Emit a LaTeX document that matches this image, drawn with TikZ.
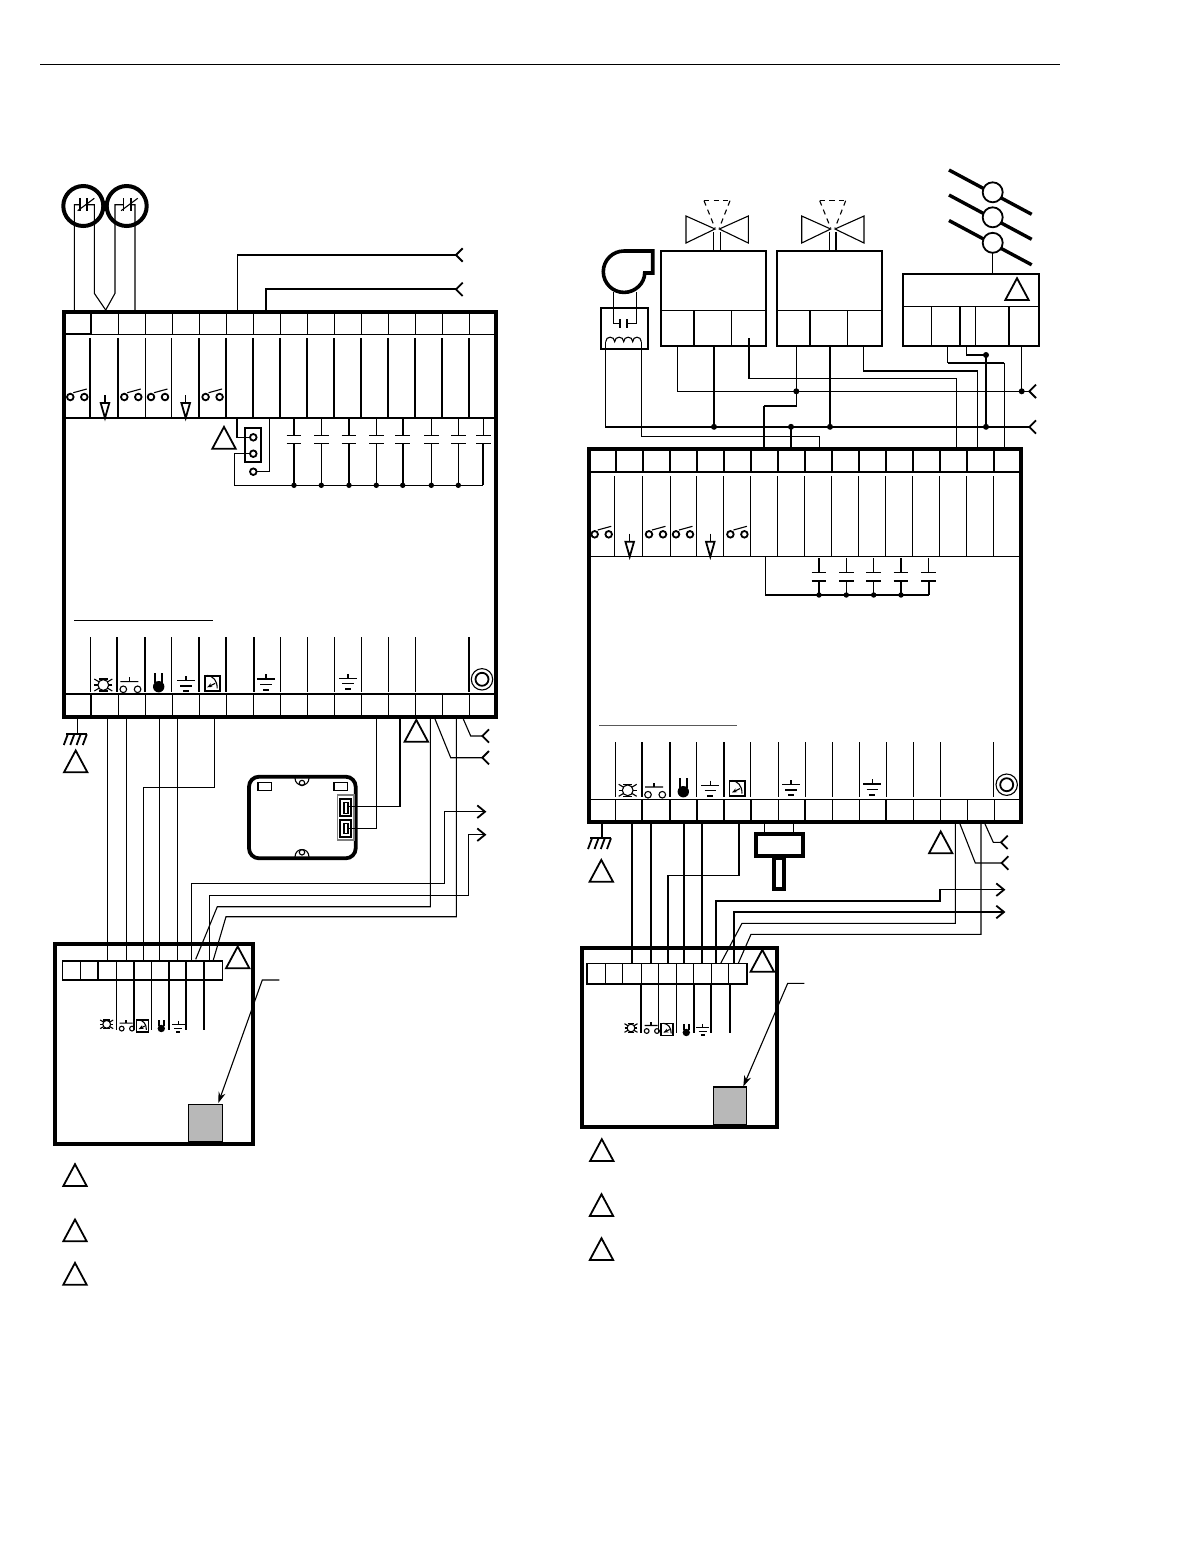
\documentclass[tikz,border=0pt]{standalone}
\usetikzlibrary{arrows.meta}
\tikzset{
  wa/.style={line width=.55pt},
  wb/.style={line width=.9pt},
  wc/.style={line width=1.9pt},
  wd/.style={line width=1.3pt},
  bx/.style={draw,inner sep=0pt,outer sep=0pt},
  junction/.style={fill=black,draw=none},
}
\newcommand\bxn[6]{%
  \pgfmathsetmacro\bw{(#4-#2)*0.5}\pgfmathsetmacro\bh{(#5-#3)*0.5}%
  \node[bx,minimum width=\bw pt,minimum height=\bh pt,#6] (#1) at ({(#2+#4)/2},{(#3+#5)/2}) {};}
\newcommand\tri[2]{\draw[wb,line join=miter] (#1-11.7,#2) -- (#1+11.7,#2) -- (#1,#2-21.8) -- cycle;}
\newcommand\swi[2]{\draw[wb] (#1,#2) circle (3.3) (#1+14,#2) circle (3.3);\draw[wa] (#1+3,#2-4.3) -- (#1+16.5,#2-8);}
\newcommand\dwn[2]{\draw[wa] (#1,#2-23) -- (#1,#2-15);\draw[wb,line join=miter] (#1-4.3,#2-15) -- (#1+4.3,#2-15) -- (#1,#2) -- cycle;}
\newcommand\capa[7]{% x top plate1 plate2 bot topstyle botstyle
  \draw[#6] (#1,#2) -- (#1,#3);\draw[#7] (#1,#4) -- (#1,#5);
  \draw[wa] (#1-7.3,#3) -- (#1+7.3,#3) (#1-7.3,#4) -- (#1+7.3,#4);}
\newcommand\dotn[1]{\fill[junction] (#1) circle (3);}
\newcommand\forkn[1]{\draw[wb] ([shift={(6.7,-6.7)}]#1) -- (#1) -- ([shift={(6.7,6.7)}]#1);}
\newcommand\arrn[1]{\draw[wb] ([shift={(-7.7,-6.3)}]#1) -- (#1) -- ([shift={(-7.7,6.3)}]#1);}
\newcommand\lamp[3]{\begin{scope}[shift={(#1,#2)},scale=#3]
  \draw[wa] (0,0) circle (5.4);
  \draw[wa] (-9,-6) -- (-4,-3) (9,-6) -- (4,-3) (-9,6) -- (-4,3) (9,6) -- (4,3);
  \draw[wa] (-9,0) -- (-5,0) (9,0) -- (5,0) (-4.5,-6) -- (4.5,-6) (-4.5,6) -- (4.5,6);\end{scope}}
\newcommand\pushb[3]{\begin{scope}[shift={(#1,#2)},scale=#3]
  \draw[wa] (0,0) circle (3.3) (14.3,0) circle (3.3) (-3,-7.7) -- (15,-7.7);
  \draw[wa] (6,-7.7) -- (6,-12);\end{scope}}
\newcommand\horn[3]{\begin{scope}[shift={(#1,#2)},scale=#3]
  \fill (0,0) circle (5.7);\draw[wb] (-3.6,-4) -- (-3.6,-13.5) (3.6,-4) -- (3.6,-13.5);\end{scope}}
\newcommand\gnd[3]{\begin{scope}[shift={(#1,#2)},scale=#3]
  \draw[wa] (0,-4.7) -- (0,0);\draw[wa] (-9,0) -- (9,0);\draw[wa] (-5.7,5.3) -- (5.7,5.3);\draw[wb] (-3,10.6) -- (3,10.6);\end{scope}}
\newcommand\meter[3]{\begin{scope}[shift={(#1,#2)},scale=#3]
  \fill[gray!25] (-8.2,-8.2) rectangle (8.2,8.2);
  \fill[white] (-6.6,-6.6) rectangle (6.6,6.6);
  \draw[wb] (-7.6,-7.6) rectangle (7.6,7.6);
  \draw[wa] (-5,-8) .. controls (1,-7) and (5,-3) .. (5,5);
  \draw[wa,-{Stealth[length=2.5pt,width=2pt]}] (3,0) -- (-5,4);\end{scope}}
\newcommand\knob[2]{\draw[wa] (#1,#2) circle (10.7);\draw[wb] (#1,#2) circle (6.5);}
\newcommand\earth[2]{\draw[wa] (#1,#2-15.3) -- (#1,#2);\draw[wb] (#1-11.3,#2) -- (#1+9.3,#2);
  \foreach \dd in {-9.5,-3,3.3,9.5}{\draw[wb] (#1+\dd,#2) -- (#1+\dd-4,#2+10.7);}}
\newcommand\valve[1]{\begin{scope}[xshift=#1*0.5pt]
  \draw[wa,line join=miter] (686,216) -- (686,243) -- (715,229) -- cycle (748.3,216) -- (748.3,243) -- (719.3,229) -- cycle;
  \draw[wa] (713.7,232) -- (713.7,250.7) (720.3,232) -- (720.3,250.7);
  \draw[wa,dash pattern=on 2.6pt off 2.2pt] (704,200.7) -- (730,200.7);
  \draw[wa,dash pattern=on 2.6pt off 2.2pt] (704,200.7) -- (715,228);
  \draw[wa,dash pattern=on 2.6pt off 2.2pt] (730,200.7) -- (719.3,228);
  \end{scope}}
\begin{document}
\begin{tikzpicture}[x=0.5pt,y=-0.5pt,line cap=butt]
\useasboundingbox (0,0) rectangle (1198,1560);
\fill[white] (0,0) rectangle (1198,1560);
\draw[line width=.4pt] (40,64) -- (1060,64);

%% ---------- named terminals ----------
\foreach \n/\x/\y in {
 ta/74.3/311,tb/94.3/293.3,tc/115/293.3,td/135/311,te/105.7/310,
 tf/237.7/311,tg/265.7/311,fa/456/255,fb/456/289.3,
 lg/77.3/719,lw1/214.3/719,lw2/376.3/719,lw3/400/719,lw4/430.3/719,lw5/456.3/719,lw6/435/719,lw7/463.3/719,
 la1/107.7/719,la2/126.7/719,la4/159.7/719,la5/177.7/719,
 m1/107.7/960,m2/126.7/960,m3/143.3/960,m4/159.7/960,m5/177.7/960,m6/191.7/960,m7/209.3/960,m8/195.7/959.3,m9/213.3/960,
 fc/482.3/736,fd/482.3/757.7,ae/485/811.7,af/485/834.7,
 dca/348.3/806.3,dcb/348.3/828.3,
 rg/602.3/824,ra1/632/824,ra2/651/824,ra4/684/824,ra5/702/824,rw1/739/824,rw2/955.3/824,rw3/981/824,rw4/960/824,rw5/985/824,
 rm1/632/963.3,rm2/651/963.3,rm3/668/963.3,rm4/684/963.3,rm5/702/963.3,rm6/716/963.3,rm7/734/963.3,rm8/720.7/963.3,rm9/738.3/963.3,
 fe/1001/842.3,ff/1001.7/863,ag/1004/889.7,ah/1004/912,
 hm1/764.3/824,hm2/793.3/824,hn1/764.3/833,hn2/793.3/833,
 ja/677.7/346,jb/714/346,jc/749/338.3,jd/796.3/346,je/830/346,jf/863.7/346,jg/947.7/346,jh/966.7/346,ji/1021.7/346,
 tq1/819.3/449,tq2/791/449,tq3/763.7/449,tq4/956.3/449,tq5/977.3/449,tq6/1004.3/449,
 da/796.3/391.3,db/1021.7/391.3,dc/714/426.8,dd/791/426.8,de/830/426.8,df/986/426.8,dg/986/355,
 fg/1029.3/391.3,fh/1029.3/427,coa/605.7/341.7,cob/641.3/341.7,
 dm/992.7/252.7,dn/992.7/274,
 lead1/279.3/980,lead2/218.3/1103,lead3/804.3/983.3,lead4/743.3/1086.5
}{\coordinate (\n) at (\x,\y);}

%% ---------- left thermostats ----------
\foreach \c in {0,43.4}{
  \draw[line width=2pt] (83.3+\c,206) circle (20);
  \draw[wb] (80+\c,198.3) -- (80+\c,211) (87.3+\c,198.3) -- (87.3+\c,211);
  \draw[wa] (77.7+\c,210.7) -- (94.3+\c,198.3);
}
\draw[wa] (ta) -- (74.3,204.7) -- (80,204.7) (87.3,204.7) -- (94.3,204.7) -- (tb) -- (te);
\draw[wa] (te) -- (tc) -- (115,204.7) -- (123.4,204.7) (130.7,204.7) -- (135,204.7) -- (td);
\draw[wa] (tf) -- (237.7,255) -- (fa);\forkn{fa}
\draw[wb] (tg) -- (265.7,289.3) -- (fb);\forkn{fb}

%% ---------- left controller ----------
\bxn{ctlL}{63.5}{312}{496}{717}{line width=2pt}
\draw[wa] (63.5,334.3) -- (496,334.3);\draw[wb] (63.5,334.3) -- (91.3,334.3);
\draw[wb] (91.3,312) -- (91.3,334.3);
\foreach \i in {1,...,14}{\draw[wa] (91.3+27*\i,312) -- (91.3+27*\i,334.3);}
\foreach \x in {90,117.7,199,226,253,280,307,334,361,388,415,442,469}{\draw[wb] (\x,338) -- (\x,418.3);}
\foreach \x in {145.3,171.3}{\draw[wa] (\x,338) -- (\x,418.3);}
\draw[wb] (63.5,418.3) -- (496,418.3);
\swi{70.3}{397}\swi{124.3}{397}\swi{151}{397}\swi{205.6}{397}
\dwn{105}{418}\dwn{185.7}{418}
\tri{224}{448.7}
\bxn{jmp}{245}{427.7}{261}{462.3}{line width=1pt}
\foreach \y in {437.3,453.7,471.7}{\draw[wb] (253.3,\y) circle (3.3);}
\draw[wa] (237,418.3) -- (237,437.3) -- (249.9,437.3);
\draw[wa] (249.9,453.7) -- (234.7,453.7) -- (234.7,485.3) -- (483.3,485.3);
\draw[wa] (256.7,471.7) -- (269.3,471.7) -- (269.3,418.3);
\capa{294}{418.3}{435.3}{443.3}{485.3}{wb}{wb}
\capa{321.3}{418.3}{435.3}{443.3}{485.3}{wa}{wa}
\capa{349}{418.3}{435.3}{443.3}{485.3}{wb}{wb}
\capa{376.3}{418.3}{435.3}{443.3}{485.3}{wa}{wa}
\capa{402.7}{418.3}{435.3}{443.3}{485.3}{wb}{wb}
\capa{431.3}{418.3}{435.3}{443.3}{485.3}{wa}{wa}
\capa{458.3}{418.3}{435.3}{443.3}{485.3}{wa}{wa}
\capa{483.3}{418.3}{435.3}{443.3}{485.3}{wa}{wb}
\foreach \x in {294,321.3,349,376.3,402.7,431.3,458.3}{\fill[junction] (\x,485.3) circle (2.7);}
\draw[wa] (74,620.3) -- (213,620.3);
\foreach \x in {90.7,171.3,280.3,307.3,334.3,361.3,388.3,415.3}{\draw[wa] (\x,637.3) -- (\x,691.7);}
\foreach \x in {117,145,199,226,254,469}{\draw[wb] (\x,637.3) -- (\x,691.7);}
\draw[wb] (63.5,694) -- (496,694);
\draw[wb] (91.3,694) -- (91.3,717);
\foreach \i in {1,...,14}{\draw[wa] (91.3+27*\i,694) -- (91.3+27*\i,717);}
\lamp{103.3}{685}{1}\pushb{123.3}{689.3}{1}\horn{158.7}{686.7}{1}\gnd{186}{680.7}{1}\meter{212.2}{683.3}{1}
\gnd{266}{679}{1}\gnd{348}{678.5}{1}\knob{482}{679.3}

%% ---------- below left controller ----------
\draw[wa] (lg) -- (77.3,734.3);\earth{77.3}{734.3}
\tri{75.7}{772.3}\tri{416.3}{741.7}
\foreach \a/\b in {la1/m1,la2/m2,la4/m4,la5/m5}{\draw[wa] (\a) -- (\b);}
\draw[wa] (lw1) -- (214.3,787.7) -- (143.3,787.7) -- (m3);
\draw[wa] (lw4) -- (430.3,906.7) -- (217.3,906.7) -- (m8);
\draw[wa] (lw5) -- (456.3,916.7) -- (226,916.7) -- (m9);
\draw[wa] (lw6) -- (450.7,757.7) -- (fd);\forkn{fd}
\draw[wa] (lw7) -- (470.7,736) -- (fc);\forkn{fc}
\draw[wa] (m6) -- (191.7,883.7) -- (444.3,883.7) -- (444.3,811.7) -- (ae);\arrn{ae}
\draw[wa] (m7) -- (209.3,895.3) -- (468.3,895.3) -- (468.3,834.7) -- (af);\arrn{af}
%% device
\draw[line width=1.9pt,rounded corners=5pt] (249,776.7) rectangle (355.7,858.3);
\draw[wa] (258,782.3) rectangle (271.3,790.3) (334,782.3) rectangle (347.3,790.3);
\draw[wa] (295,778) .. controls (295,787.5) and (309,787.5) .. (309,778);
\draw[wa] (295,857) .. controls (295,847) and (309,847) .. (309,857);
\draw[wa] (302,783) circle (2.7) (302,852.3) circle (2.7);
\draw[line width=.7pt,gray] (337.3,795) rectangle (354,840);
\draw[wb] (340.3,799) rectangle (351,815.7) (340.3,819.7) rectangle (351,836.7);
\draw[wa] (344,802.3) rectangle (348,813.3) (344,823.3) rectangle (348,833.3);
\draw[wa] (lw2) -- (376.3,828.3) -- (dcb);
\draw[wa] (lw3) -- (400,806.3) -- (dca);

%% ---------- lower left box ----------
\bxn{panL}{55}{944}{252.7}{1144}{line width=2pt}
\bxn{rowL}{62.3}{960.7}{222.3}{980}{line width=.8pt}
\foreach \x in {80.3,116.3,151.3,186}{\draw[wa] (\x,960.7) -- (\x,980);}
\foreach \x in {98.3,134.3,169,204}{\draw[wb] (\x,960.7) -- (\x,980);}
\foreach \x in {116.3,151.3}{\draw[wa] (\x,980) -- (\x,1030);}
\foreach \x in {134,169,186,204}{\draw[wb] (\x,980) -- (\x,1030);}
\lamp{106.7}{1024.3}{.72}\pushb{121.7}{1028.6}{.72}\meter{142.5}{1026}{.78}\horn{161.3}{1028.5}{.65}\gnd{178.3}{1024.3}{.72}
\tri{237.7}{968.3}
\bxn{grayL}{188.3}{1104.3}{222.3}{1142}{fill=black!28,line width=.7pt}
\draw[wa,-{Stealth[length=5.5pt,width=3.6pt]}] (lead1) -- (262.3,980) -- (lead2);
\tri{75}{1186}\tri{75}{1241.3}\tri{75}{1284.7}

%% ---------- right top devices ----------
\draw[line width=1.8pt,line join=miter] (624,251) -- (652.7,251) -- (652.7,273) -- (644.7,273) .. controls (644.7,283.1) and (635.4,292.4) .. (624,292.4) .. controls (612.6,292.4) and (603.3,283.1) .. (603.3,271.7) .. controls (603.3,260.3) and (612.6,251) .. (624,251) -- cycle;
\bxn{fanb}{601}{308}{648}{349}{line width=.95pt}
\draw[wa] (613.3,292) -- (613.3,323.3) -- (620,323.3) (636.7,292) -- (636.7,323.3) -- (627.3,323.3);
\draw[wb] (620,319.3) -- (620,328.3) (627.3,319.3) -- (627.3,328.3);
\draw[wa] (605.7,341.7)
  .. controls (605.7,335.7) and (614.7,335.7) .. (614.7,341.7)
  .. controls (614.7,335.7) and (623.7,335.7) .. (623.7,341.7)
  .. controls (623.7,335.7) and (632.7,335.7) .. (632.7,341.7)
  .. controls (632.7,335.7) and (641.3,335.7) .. (641.3,341.7);
\bxn{boxA}{661}{250.7}{766}{346}{line width=1pt}
\bxn{boxB}{777}{250.7}{882}{346}{line width=1pt}
\draw[wa] (661,310.3) -- (766,310.3) (777,310.3) -- (882,310.3);
\draw[wb] (693.7,310.3) -- (693.7,346) (809.7,310.3) -- (809.7,346);
\draw[wa] (731.7,310.3) -- (731.7,346) (847.3,310.3) -- (847.3,346);
\valve{0}\valve{115.7}
\foreach \c in {0,25,50.5}{
  \draw[line width=1.7pt] (949,170+\c) -- (1031.7,214.3+\c);
  \draw[wb,fill=white] (992.7,192.3+\c) circle (10);
}
\draw[wa] (dm) -- (dn);
\bxn{boxC}{903}{274}{1039}{346}{line width=1pt}
\draw[wa] (903,306.3) -- (1039,306.3);
\draw[wa] (931.3,306.3) -- (931.3,346) (975.7,306.3) -- (975.7,346);
\draw[wb] (960,306.3) -- (960,346) (1008.7,306.3) -- (1008.7,346);
\tri{1017}{300}
%% wires from devices
\draw[wa] (ja) -- (677.7,391.3) -- (fg);\forkn{fg}
\draw[wa] (coa) -- (605.7,427) -- (fh);\forkn{fh}
\draw[wa] (cob) -- (641.3,436.7) -- (819.3,436.7) -- (tq1);
\draw[wa] (jb) -- (dc);
\draw[wa] (jc) -- (749,378.7) -- (956.3,378.7) -- (tq4);
\draw[wa] (jd) -- (da) -- (796.3,406) -- (763.7,406);\draw[wb] (763.7,406) -- (tq3);
\draw[wa] (je) -- (de);
\draw[wa] (jf) -- (863.7,371) -- (977.3,371) -- (tq5);
\draw[wa] (dd) -- (tq2);
\draw[wa] (ji) -- (db);
\draw[wa] (jg) -- (947.7,362.7);\draw[wb] (947.7,362.7) -- (1004.3,362.7);\draw[wa] (1004.3,362.7) -- (tq6);
\draw[wa] (jh) -- (966.7,355) -- (dg);
\draw[wa] (dg) -- (df);
\foreach \n in {da,db,dc,dd,de,df,dg}{\dotn{\n}}

%% ---------- right controller ----------
\bxn{ctlR}{588.7}{449.3}{1021.3}{822}{line width=2pt}
\draw[wa] (588.7,472) -- (616,472);\draw[wb] (616,472) -- (1021.3,472);
\draw[wb] (616,449.3) -- (616,472);
\foreach \i in {1,...,14}{\draw[wa] (616+27*\i,449.3) -- (616+27*\i,472);}
\foreach \x in {614.3,642.3,670.3,696.3,723.3,750.3,777.3,804.3,831.3,858.3,885.3,912.3,939.3,966.3,993.3}{\draw[wa] (\x,476) -- (\x,556.7);}
\draw[wa] (588.7,556.7) -- (1021.3,556.7);
\swi{594.7}{534.3}\swi{649}{534.3}\swi{676}{534.3}\swi{730.4}{534.3}
\dwn{629.7}{556.7}\dwn{710.3}{556.7}
\draw[wa] (765.3,556.7) -- (765.3,595);
\draw[wb] (765.3,595) -- (928.7,595);
\capa{819}{558.3}{572.7}{581}{595}{wb}{wb}
\capa{846.3}{558.3}{572.7}{581}{595}{wa}{wa}
\capa{873.7}{558.3}{572.7}{581}{595}{wa}{wa}
\capa{901}{558.3}{572.7}{581}{595}{wb}{wb}
\capa{928.7}{558.3}{572.7}{581}{595}{wa}{wb}
\foreach \x in {819,846.3,873.7,901}{\fill[junction] (\x,595) circle (2.7);}
\draw[wa,gray!70!black] (599,725.7) -- (737.3,725.7);
\foreach \x in {615.3,696.7,750.3,778.3,805.3,832.3,859.3,886.3,913.3,940.3,993.7}{\draw[wa] (\x,742.3) -- (\x,797.3);}
\foreach \x in {642,670,724}{\draw[wb] (\x,742.3) -- (\x,797.3);}
\draw[wa] (588.7,799.3) -- (1021.3,799.3);
\foreach \x in {615.3,697,751,778.3,832.3,859.3,913.3,940.3,967.3,994.3}{\draw[wa] (\x,799.3) -- (\x,822);}
\foreach \x in {642.3,670,724,805.3,886.3}{\draw[wb] (\x,799.3) -- (\x,822);}
\lamp{627.7}{790.3}{1}\pushb{648}{794.7}{1}\horn{683.3}{791.7}{1}\gnd{710.3}{785.3}{1}\meter{737}{788.5}{1}
\gnd{791}{784.7}{1}\gnd{872.3}{784}{1}\knob{1006.7}{784.7}

%% ---------- below right controller ----------
\draw[wa] (rg) -- (602.3,838.3);\earth{601.5}{838.3}
\tri{601.3}{881.7}\tri{940.7}{853.3}
\foreach \a/\b in {ra1/rm1,ra2/rm2,ra4/rm4,ra5/rm5}{\draw[wa] (\a) -- (\b);}
\draw[wa] (rw1) -- (739,875.7) -- (668,875.7) -- (rm3);
\draw[wa] (hm1) -- (hn1) (hm2) -- (hn2);
\draw[line width=2pt] (756,834) rectangle (803,855.7);
\draw[line width=2pt] (774,857.7) rectangle (784,889);
\draw[wa] (rw2) -- (955.3,923.3) -- (742,923.3) -- (rm8);
\draw[wa] (rw3) -- (981,934.3) -- (751,934.3) -- (rm9);
\draw[wa] (rw4) -- (975.3,863) -- (ff);\forkn{ff}
\draw[wa] (rw5) -- (993.3,842.3) -- (fe);\forkn{fe}
\draw[wa] (rm6) -- (716,901) -- (940,901) -- (940,889.7) -- (ag);\arrn{ag}
\draw[wa] (rm7) -- (734,912) -- (ah);\arrn{ah}

%% ---------- lower right box ----------
\bxn{panR}{582}{948}{777}{1127}{line width=2pt}
\bxn{rowR}{586.7}{963.3}{746.7}{983.7}{line width=.8pt}
\foreach \x in {605.3,622.7,641.7,658.7,676.3,693.7,711.3,728.7}{\draw[wa] (\x,963.3) -- (\x,983.7);}
\foreach \x in {658.3,676.3}{\draw[wa] (\x,983.7) -- (\x,1032.7);}
\foreach \x in {641,693.7,711,730}{\draw[wb] (\x,983.7) -- (\x,1032.7);}
\lamp{631}{1028}{.72}\pushb{646.7}{1031}{.72}\meter{667.3}{1029.5}{.78}\horn{686.3}{1032.5}{.65}\gnd{702.7}{1027.3}{.72}
\tri{762.3}{971.7}
\bxn{grayR}{713.3}{1087.3}{746.7}{1125}{fill=black!28,line width=.7pt}
\draw[wb] (713.3,1087.3) -- (746.7,1087.3);
\draw[wa,-{Stealth[length=5.5pt,width=3.6pt]}] (lead3) -- (787.7,983.3) -- (lead4);
\tri{601.8}{1161}\tri{601.5}{1216}\tri{601.5}{1260}
\end{tikzpicture}
\end{document}
